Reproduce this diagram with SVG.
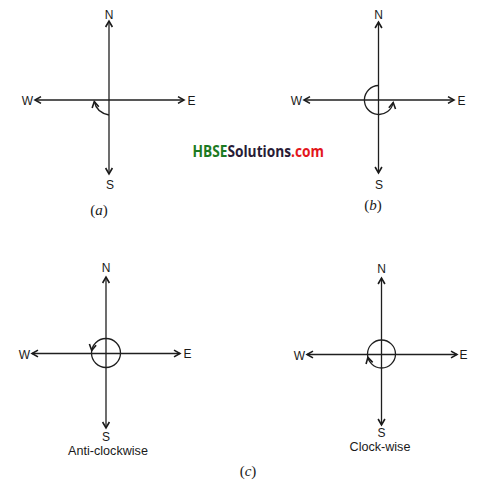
<svg xmlns="http://www.w3.org/2000/svg" width="482" height="491" viewBox="0 0 482 491">
<defs>
<marker id="ah" viewBox="-8 -5 10 10" refX="0" refY="0" markerWidth="10" markerHeight="10" markerUnits="userSpaceOnUse" orient="auto-start-reverse">
<path d="M-6,-3.4 L0,0 L-6,3.4" fill="none" stroke="#1a1a1a" stroke-width="1.6" stroke-linejoin="miter"/>
</marker>
<style>
.ax{stroke:#1f1f1f;stroke-width:1.3;fill:none;marker-start:url(#ah);marker-end:url(#ah)}
.arc{stroke:#1f1f1f;stroke-width:1.3;fill:none}
.arr{stroke:#1f1f1f;stroke-width:1.3;fill:none;marker-end:url(#ah)}
.lb{font-family:"Liberation Sans",Arial,sans-serif;font-size:12px;fill:#1a1a1a}
.cap{font-family:"Liberation Sans",Arial,sans-serif;font-size:12.6px;fill:#1a1a1a;text-anchor:middle}
.fig{font-family:"Liberation Serif","Times New Roman",serif;font-size:15px;fill:#1a1a1a;text-anchor:middle}
</style>
</defs>
<rect width="482" height="491" fill="#ffffff"/>

<g id="connectors">
<!-- (a) -->
<line class="ax" x1="109" y1="21" x2="109" y2="174"/>
<line class="ax" x1="35" y1="100" x2="184" y2="100"/>
<!-- (b) -->
<line class="ax" x1="378.5" y1="22" x2="378.5" y2="173"/>
<line class="ax" x1="304" y1="100" x2="454" y2="100"/>
<!-- (c) left -->
<line class="ax" x1="106" y1="277" x2="106" y2="428"/>
<line class="ax" x1="32" y1="353.5" x2="180" y2="353.5"/>
<!-- (c) right -->
<line class="ax" x1="381.5" y1="278" x2="381.5" y2="425"/>
<line class="ax" x1="307" y1="354.5" x2="457" y2="354.5"/>
</g>

<g id="compass-a">
<path class="arr" d="M109,115 Q96.5,112.5 94.3,101.5"/>
<text class="lb" x="109" y="18.5" text-anchor="middle">N</text>
<text class="lb" x="110" y="188.5" text-anchor="middle">S</text>
<text class="lb" x="33" y="105" text-anchor="end">W</text>
<text class="lb" x="187.5" y="104.5">E</text>
<text class="fig" x="99" y="215">(<tspan font-style="italic">a</tspan>)</text>
</g>

<g id="compass-b">
<path class="arr" d="M378.5,85.5 A14.5,14.5 0 1 0 393.2,102.5"/>
<text class="lb" x="378.5" y="18.5" text-anchor="middle">N</text>
<text class="lb" x="379" y="188.5" text-anchor="middle">S</text>
<text class="lb" x="302" y="105" text-anchor="end">W</text>
<text class="lb" x="457.5" y="104.5">E</text>
<text class="fig" x="373" y="210">(<tspan font-style="italic">b</tspan>)</text>
</g>

<g id="compass-c-anticlockwise">
<circle class="arc" cx="106" cy="353" r="14.5"/>
<path class="arr" d="M92.37,348.04 A14.5,14.5 0 0 0 91.72,350.48"/>
<text class="lb" x="106" y="440.5" text-anchor="middle">S</text>
<text class="lb" x="106" y="272" text-anchor="middle">N</text>
<text class="lb" x="30" y="358.5" text-anchor="end">W</text>
<text class="lb" x="183.5" y="358">E</text>
<text class="cap" x="108" y="455">Anti-clockwise</text>
</g>

<g id="compass-c-clockwise">
<circle class="arc" cx="381.5" cy="354" r="14"/>
<path class="arr" d="M368.81,359.92 A14,14 0 0 1 367.92,357.39"/>
<text class="lb" x="381.5" y="272.5" text-anchor="middle">N</text>
<text class="lb" x="381.5" y="437" text-anchor="middle">S</text>
<text class="lb" x="305" y="359.5" text-anchor="end">W</text>
<text class="lb" x="459.5" y="359">E</text>
<text class="cap" x="380" y="451">Clock-wise</text>
</g>

<text class="fig" x="248" y="476">(<tspan font-style="italic">c</tspan>)</text>

<text transform="scale(0.885,1)" x="217.5" y="157" font-family="'Open Sans','Noto Sans',sans-serif" font-weight="bold" font-size="15.5"><tspan fill="#1c7a22">HBSE</tspan><tspan fill="#2a1c36">Solutions</tspan><tspan fill="#e3161c">.com</tspan></text>
</svg>
